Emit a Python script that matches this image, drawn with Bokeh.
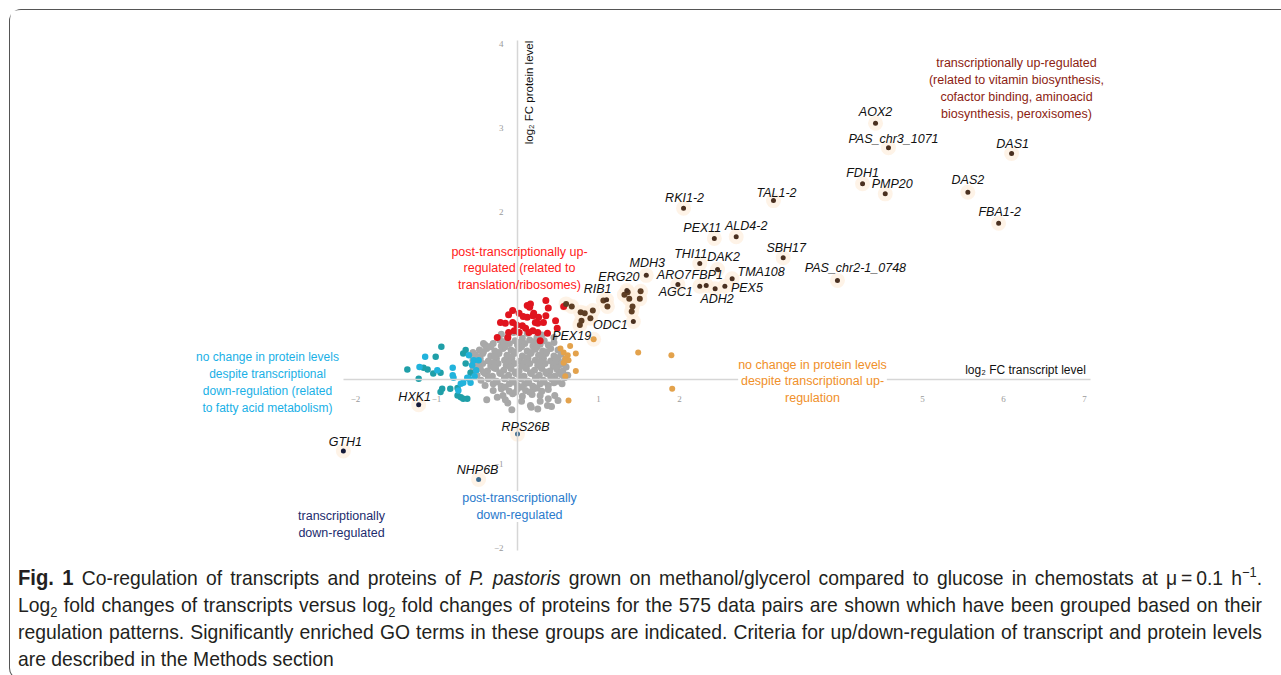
import math
from bokeh.plotting import figure
from bokeh.models import Range1d, LinearAxis, FixedTicker, Label, Div
from bokeh.layouts import column
from bokeh.embed import file_html
from bokeh.resources import INLINE

# ---------------- data (log2 FC transcript, log2 FC protein) ----------------
x_ticks = [-2, -1, 1, 2, 5, 6, 7]
y_ticks = [-2, -1, 2, 3, 4]

# transcriptionally up-regulated, labelled
up_names = ["AOX2", "PAS_chr3_1071", "DAS1", "FDH1", "PMP20", "DAS2", "FBA1-2",
            "RKI1-2", "TAL1-2", "PEX11", "ALD4-2", "SBH17", "PAS_chr2-1_0748",
            "THI11", "DAK2", "TMA108", "MDH3", "ERG20", "ARO7", "FBP1", "AGC1",
            "ADH2", "PEX5", "RIB1", "ODC1"]
up_x = [4.42, 4.58, 6.10, 4.26, 4.54, 5.56, 5.94, 2.05, 3.16, 2.43, 2.70, 3.28, 3.95,
        2.25, 2.47, 2.65, 1.59, 1.35, 1.98, 2.33, 2.25, 2.44, 2.56, 1.10, 1.43]
up_y = [3.05, 2.76, 2.69, 2.33, 2.21, 2.23, 1.86, 2.04, 2.13, 1.68, 1.70, 1.45, 1.18,
        1.38, 1.31, 1.20, 1.24, 1.06, 1.13, 1.12, 1.11, 1.08, 1.11, 0.95, 0.69]

# transcriptionally up-regulated, unlabelled
brown_pts = [(0.67, 0.87), (0.78, 0.80), (0.93, 0.82), (0.79, 0.70), (0.77, 0.65),
             (0.90, 0.73), (1.11, 0.87), (1.36, 1.04), (1.38, 0.96), (1.51, 0.96),
             (1.42, 0.87), (1.41, 0.81), (1.52, 1.05), (1.32, 1.01), (0.60, 0.90),
             (0.83, 0.79), (1.06, 0.94)]

# post-transcriptionally up-regulated
red_pts = [(0.12, 0.88), (0.15, 0.86), (0.02, 0.79), (-0.11, 0.77), (0.19, 0.76),
           (0.12, 0.74), (-0.15, 0.67), (-0.06, 0.68), (-0.01, 0.65), (0.06, 0.64),
           (0.10, 0.61), (0.25, 0.67), (-0.11, 0.56), (0.02, 0.56), (0.14, 0.56),
           (0.25, 0.56), (-0.25, 0.50), (-0.12, 0.50), (0.26, 0.74), (0.35, 0.94),
           (0.20, 0.79), (0.35, 0.76), (0.22, 0.68), (0.32, 0.68), (0.47, 0.70),
           (0.37, 0.55), (0.49, 0.61), (0.57, 0.87), (-0.21, 0.68), (-0.04, 0.58),
           (0.19, 0.58), (0.07, 0.75), (0.16, 0.90), (-0.06, 0.82), (0.28, 0.46),
           (0.38, 0.85)]

# no change in protein despite transcriptional down-regulation
cyan_pts = [(-1.14, 0.27), (-1.21, 0.15), (-0.80, 0.14), (-0.80, 0.05), (-0.73, -0.13),
            (-0.70, -0.05), (-0.56, 0.17), (-0.54, 0.23), (-0.62, 0.02), (-0.58, -0.04),
            (-0.60, 0.01), (-0.60, 0.29), (-0.99, 0.11), (-0.79, 0.02), (-0.53, 0.04),
            (-0.48, 0.23), (-0.51, 0.11), (-0.67, -0.04)]
teal_pts = [(-0.94, 0.39), (-1.01, 0.27), (-1.36, 0.12), (-1.16, 0.14), (-1.04, 0.07),
            (-0.95, 0.08), (-1.22, 0.01), (-0.83, -0.11), (-0.64, 0.19), (-0.67, 0.31),
            (-0.58, 0.08), (-0.74, -0.19), (-0.70, -0.21), (-0.62, -0.23), (-0.95, -0.15),
            (-0.93, -0.11), (-0.64, 0.35), (-1.11, 0.12), (-0.74, -0.10), (-0.67, -0.23)]

# no change in protein despite transcriptional up-regulation
orange_pts = [(0.57, 0.32), (0.62, 0.29), (0.59, 0.25), (0.63, 0.23), (0.57, 0.20),
              (0.72, 0.31), (0.72, 0.10), (0.59, 0.04), (0.63, -0.25), (1.49, 0.32),
              (1.90, 0.29), (1.91, -0.11), (0.65, 0.40), (0.53, 0.37)]
orange_names = ["PEX19"]
orange_x = [0.94]
orange_y = [0.48]

# transcriptionally down-regulated
down_names = ["HXK1", "GTH1"]
down_x = [-1.22, -2.15]
down_y = [-0.30, -0.85]

# post-transcriptionally down-regulated
pdown_names = ["RPS26B", "NHP6B"]
pdown_x = [0.00, -0.48]
pdown_y = [-0.65, -1.19]

# not regulated
gray_pts = [
    (-0.22, 0.47), (-0.12, 0.50), (-0.03, 0.46), (0.06, 0.49), (0.15, 0.47), (0.24, 0.50), (0.33, 0.46), (-0.30, 0.43),
    (-0.40, 0.41), (-0.33, 0.39), (-0.20, 0.40), (-0.10, 0.43), (0.00, 0.41), (0.09, 0.43), (0.19, 0.40), (0.28, 0.42), (0.38, 0.41), (0.45, 0.44),
    (-0.47, 0.35), (-0.38, 0.37), (-0.28, 0.34), (-0.18, 0.37), (-0.08, 0.35), (0.02, 0.37), (0.12, 0.34), (0.22, 0.36), (0.31, 0.34), (0.41, 0.37), (0.50, 0.35),
    (-0.52, 0.29), (-0.43, 0.31), (-0.33, 0.28), (-0.23, 0.31), (-0.13, 0.29), (-0.04, 0.31), (0.06, 0.28), (0.16, 0.31), (0.26, 0.29), (0.35, 0.31), (0.45, 0.28), (0.54, 0.30),
    (-0.55, 0.23), (-0.46, 0.25), (-0.36, 0.22), (-0.26, 0.25), (-0.16, 0.23), (-0.07, 0.25), (0.03, 0.22), (0.13, 0.25), (0.22, 0.23), (0.32, 0.25), (0.41, 0.22), (0.50, 0.24), (0.58, 0.22),
    (-0.53, 0.17), (-0.43, 0.19), (-0.33, 0.16), (-0.24, 0.19), (-0.14, 0.17), (-0.04, 0.19), (0.05, 0.16), (0.15, 0.19), (0.25, 0.17), (0.34, 0.19), (0.44, 0.16), (0.53, 0.18),
    (-0.55, 0.11), (-0.46, 0.13), (-0.37, 0.10), (-0.27, 0.13), (-0.17, 0.11), (-0.08, 0.13), (0.02, 0.10), (0.11, 0.13), (0.21, 0.11), (0.30, 0.13), (0.40, 0.10), (0.49, 0.12), (0.56, 0.10),
    (-0.50, 0.05), (-0.40, 0.07), (-0.31, 0.04), (-0.21, 0.07), (-0.11, 0.05), (-0.02, 0.07), (0.08, 0.04), (0.17, 0.07), (0.27, 0.05), (0.36, 0.07), (0.46, 0.04), (0.54, 0.06),
    (-0.45, -0.01), (-0.36, 0.01), (-0.26, -0.02), (-0.16, 0.01), (-0.06, -0.01), (0.04, 0.01), (0.13, -0.02), (0.23, 0.01), (0.32, -0.01), (0.42, 0.01), (0.50, -0.02),
    (-0.40, -0.07), (-0.30, -0.05), (-0.20, -0.08), (-0.10, -0.05), (0.00, -0.07), (0.09, -0.05), (0.19, -0.08), (0.28, -0.05), (0.38, -0.07), (0.45, -0.04),
    (-0.30, -0.13), (-0.20, -0.11), (-0.10, -0.14), (0.00, -0.11), (0.10, -0.13), (0.20, -0.11), (0.30, -0.14), (0.38, -0.12),
    (-0.18, -0.19), (-0.06, -0.17), (0.06, -0.20), (0.18, -0.18), (0.28, -0.19),
    (-0.17, 0.45), (0.02, 0.44), (0.20, 0.45), (-0.35, 0.39), (-0.15, 0.39), (0.05, 0.39), (0.24, 0.39),
    (-0.42, 0.33), (-0.23, 0.32), (-0.03, 0.33), (0.17, 0.32), (0.36, 0.33),
    (-0.48, 0.27), (-0.28, 0.27), (-0.09, 0.27), (0.11, 0.26), (0.30, 0.27), (0.49, 0.26),
    (-0.50, 0.21), (-0.31, 0.20), (-0.11, 0.21), (0.08, 0.20), (0.27, 0.21), (0.46, 0.20),
    (-0.48, 0.15), (-0.29, 0.14), (-0.09, 0.15), (0.10, 0.14), (0.29, 0.15), (0.48, 0.14),
    (-0.42, 0.09), (-0.22, 0.08), (-0.03, 0.09), (0.16, 0.08), (0.35, 0.09), (0.52, 0.08),
    (-0.36, 0.03), (-0.16, 0.02), (0.03, 0.03), (0.22, 0.02), (0.41, 0.03),
    (-0.25, -0.03), (-0.05, -0.03), (0.14, -0.04), (0.33, -0.03),
    (-0.15, -0.09), (0.05, -0.09), (0.24, -0.10), (-0.02, -0.15), (0.15, -0.15),
    (-0.38, -0.24), (-0.25, -0.21), (-0.12, -0.28), (0.05, -0.26), (0.16, -0.31), (0.28, -0.26),
    (0.38, -0.23), (0.46, -0.19), (0.50, -0.25), (-0.07, -0.36), (0.17, -0.33), (0.37, -0.31),
    (0.42, -0.32), (-0.15, -0.24), (0.25, -0.35), (0.55, -0.05), (0.58, 0.02),
    (-0.42, 0.43), (-0.05, 0.56), (-0.20, 0.54), (0.12, 0.55), (0.30, 0.53), (0.45, 0.50),
    (-0.55, 0.32), (0.60, 0.15), (0.62, 0.05),
]

# label offsets in pixels (right, up) relative to each point
label_offsets = {
    "AOX2": (0, 11), "PAS_chr3_1071": (5, 9), "DAS1": (1, 10), "FDH1": (0, 11),
    "PMP20": (7, 10), "DAS2": (0, 12), "FBA1-2": (1, 11), "RKI1-2": (1, 10),
    "TAL1-2": (3, 8), "PEX11": (-12, 10), "ALD4-2": (10, 11), "SBH17": (3, 10),
    "PAS_chr2-1_0748": (18, 12), "THI11": (-9, 10), "DAK2": (6, 12), "TMA108": (29, 7),
    "MDH3": (1, 12), "ERG20": (-8, 13), "ARO7": (-4, 10), "FBP1": (1, 10),
    "AGC1": (-24, -6), "ADH2": (2, -10), "PEX5": (22, -2), "RIB1": (-9, 11),
    "ODC1": (-23, -3), "PEX19": (-22, 3), "HXK1": (-4, 8), "GTH1": (2, 9),
    "RPS26B": (8, 7), "NHP6B": (-1, 9),
}

# ---------------- figure ----------------
OX, OY = 10, 10          # page position of the figure's top-left corner
W, H = 1270, 549
X_ORIGIN, Y_ORIGIN, XU, YU = 517, 379, 81.0, 84.0   # page px of (0,0) and px per unit
X0 = (OX - X_ORIGIN) / XU
X1 = (OX + W - X_ORIGIN) / XU
Y1 = (Y_ORIGIN - OY) / YU
Y0 = (Y_ORIGIN - OY - H) / YU


def px_x(px):
    return (px - X_ORIGIN) / XU


def px_y(py):
    return (Y_ORIGIN - py) / YU


p = figure(width=W, height=H, x_range=Range1d(X0, X1), y_range=Range1d(Y0, Y1),
           output_backend="svg", toolbar_location=None, min_border=0,
           x_axis_type=None, y_axis_type=None, outline_line_color=None,
           background_fill_color="white", border_fill_color="white")

axis_style = dict(axis_line_color="#d6d6d6", axis_line_width=1.5,
                  major_tick_line_color=None, minor_tick_line_color=None,
                  major_label_text_font_size="9px", major_label_text_color="#9a9a9a",
                  major_label_text_font="Liberation Serif")
xax = LinearAxis(fixed_location=0, ticker=FixedTicker(ticks=x_ticks),
                 bounds=(-2.15, 7.07), major_label_standoff=10, **axis_style)
yax = LinearAxis(fixed_location=0, ticker=FixedTicker(ticks=y_ticks),
                 bounds=(-2.04, 4.04), major_label_standoff=8, **axis_style)
p.add_layout(xax, "below")
p.add_layout(yax, "left")


def xs(pts):
    return [a for a, b in pts]


def ys(pts):
    return [b for a, b in pts]


# halos
halo_x = up_x + xs(brown_pts) + orange_x + down_x + pdown_x
halo_y = up_y + ys(brown_pts) + orange_y + down_y + pdown_y
p.scatter(halo_x, halo_y, size=15, fill_color="#fdeedd", fill_alpha=0.7, line_color=None)

p.scatter(xs(gray_pts), ys(gray_pts), size=7, fill_color="#a8a8a8", line_color=None)
p.scatter(xs(teal_pts), ys(teal_pts), size=6.5, fill_color="#1f9fa8", line_color=None)
p.scatter(xs(cyan_pts), ys(cyan_pts), size=6.5, fill_color="#21b3dc", line_color=None)
p.scatter(xs(red_pts), ys(red_pts), size=7, fill_color="#e0141e", line_color=None)
p.scatter(xs(orange_pts), ys(orange_pts), size=6, fill_color="#e3a24c", line_color=None)
p.scatter(xs(brown_pts), ys(brown_pts), size=6, fill_color="#5e3e24", line_color=None)
p.scatter(up_x, up_y, size=5, fill_color="#4a3020", line_color=None)
p.scatter(orange_x, orange_y, size=6, fill_color="#e3a24c", line_color=None)
p.scatter(down_x, down_y, size=5, fill_color="#141a3a", line_color=None)
p.scatter(pdown_x, pdown_y, size=5, fill_color="#3d6a8e", line_color=None)

# gene labels
for names, gx, gy in [(up_names, up_x, up_y), (orange_names, orange_x, orange_y),
                      (down_names, down_x, down_y), (pdown_names, pdown_x, pdown_y)]:
    for n, a, b in zip(names, gx, gy):
        ox, oy = label_offsets[n]
        p.add_layout(Label(x=a, y=b, x_offset=ox, y_offset=oy, text=n,
                           text_font="Liberation Sans", text_font_style="italic",
                           text_font_size="12.5px", text_color="#111111",
                           text_align="center", text_baseline="middle"))

# group annotations
FONT = "Liberation Sans"
annotations = [
    ("transcriptionally up-regulated\n(related to vitamin biosynthesis,\ncofactor binding, aminoacid\nbiosynthesis, peroxisomes)",
     1016, 88, "#8c1d12", None, "12.5px"),
    ("post-transcriptionally up-\nregulated (related to\ntranslation/ribosomes)",
     519, 268, "#ff1a1a", None, "12.5px"),
    ("no change in protein levels\ndespite transcriptional\ndown-regulation (related\nto fatty acid metabolism)",
     267, 382, "#19b0e6", None, "12px"),
    ("no change in protein levels\ndespite transcriptional up-\nregulation",
     812, 381, "#f0902a", "white", "12.5px"),
    ("transcriptionally\ndown-regulated", 341, 524, "#1c2c6e", None, "12.5px"),
    ("post-transcriptionally\ndown-regulated", 519, 506, "#2a7acc", "white", "12.5px"),
]
for txt, cx, cy, col, bg, fs in annotations:
    p.add_layout(Label(x=px_x(cx), y=px_y(cy), text=txt, text_font=FONT,
                       text_font_size=fs, text_color=col, text_align="center",
                       text_baseline="middle", text_line_height=1.2,
                       background_fill_color=bg))

# axis titles
p.add_layout(Label(x=px_x(528), y=px_y(92), text="log\u2082 FC protein level",
                   angle=math.pi / 2, text_font=FONT, text_font_size="11.5px",
                   text_color="#111111", text_align="center", text_baseline="middle"))
p.add_layout(Label(x=px_x(1025), y=px_y(369), text="log\u2082 FC transcript level",
                   text_font=FONT, text_font_size="12px", text_color="#111111",
                   text_align="center", text_baseline="middle"))

# ---------------- caption ----------------
SCALE = 0.92
inner_w = 1244 / SCALE
cap_font = "font-family:'Liberation Sans',Arial,sans-serif;font-size:21px;color:#231f20;"
just = "text-align:justify;text-align-last:justify;white-space:nowrap;height:27px;line-height:27px;"
last = "white-space:nowrap;height:27px;line-height:27px;"
sub = 'style="font-size:14px;line-height:0"'
lines = [
    '<b style="font-size:22px">Fig. 1</b> Co-regulation of transcripts and proteins of <i>P. pastoris</i> grown on methanol/glycerol compared to glucose in chemostats at \u03bc\u2009=\u20090.1 h<sup %s>\u22121</sup>.' % sub,
    'Log<sub %s>2</sub> fold changes of transcripts versus log<sub %s>2</sub> fold changes of proteins for the 575 data pairs are shown which have been grouped based on their' % (sub, sub),
    'regulation patterns. Significantly enriched GO terms in these groups are indicated. Criteria for up/down-regulation of transcript and protein levels',
    'are described in the Methods section',
]
html = '<div style="overflow:hidden;width:1262px;height:110px;">'
html += '<div style="%s margin-left:3px;width:%.1fpx;transform:scaleX(%.2f);transform-origin:0 0;">' % (cap_font, inner_w, SCALE)
for i, ln in enumerate(lines):
    html += '<div style="%s">%s</div>' % (just if i < 3 else last, ln)
html += '</div></div>'
div = Div(text=html, width=W, height=110)

layout = column(p, div, margin=(OY - 1, 0, 0, OX - 1),
                styles={"border": "1px solid #555555", "border-right": "none",
                        "border-radius": "12px 0 0 12px"})

open("out.html", "w").write(file_html(layout, INLINE))
